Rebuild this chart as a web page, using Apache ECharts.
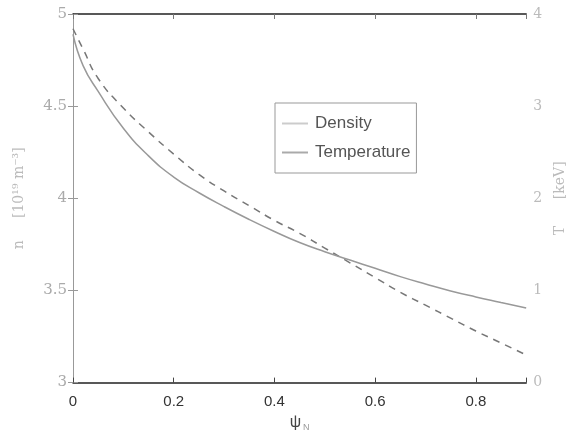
<!DOCTYPE html>
<html>
<head>
<meta charset="utf-8">
<script src="https://cdn.jsdelivr.net/npm/echarts@6/dist/echarts.min.js"></script>
<style>
  html, body { margin: 0; padding: 0; background: #fff; }
  #main { width: 575px; height: 437px; }
</style>
</head>
<body>
<div id="main"></div>
<script>
// normalized flux coordinate
const psi = [0, 0.02, 0.05, 0.1, 0.15, 0.2, 0.25, 0.3, 0.35, 0.4, 0.45, 0.5, 0.55, 0.6, 0.65, 0.7, 0.75, 0.8, 0.85, 0.9];
// density, 10^19 m^-3 (left axis)
const density = [4.92, 4.81, 4.65, 4.49, 4.36, 4.24, 4.13, 4.04, 3.96, 3.88, 3.81, 3.73, 3.65, 3.57, 3.49, 3.42, 3.35, 3.28, 3.215, 3.15];
// electron temperature, keV (right axis)
const temperature = [3.78, 3.44, 3.16, 2.76, 2.46, 2.23, 2.06, 1.91, 1.77, 1.64, 1.52, 1.42, 1.33, 1.24, 1.15, 1.07, 0.995, 0.93, 0.87, 0.81];
const xTicks = [0, 0.2, 0.4, 0.6, 0.8];

const chart = echarts.init(document.getElementById('main'));
const font = 'Liberation Sans, Arial, sans-serif';
const serif = 'DejaVu Serif, serif';

const option = {
    animation: false,
    backgroundColor: '#fff',
    grid: { left: 73, right: 46, top: 14, bottom: 49 },
    legend: {
        orient: 'vertical',
        left: 275,
        top: 103,
        padding: [12, 6, 12, 7],
        itemGap: 12,
        itemWidth: 26,
        itemHeight: 2,
        icon: 'rect',
        borderColor: '#999',
        borderWidth: 1,
        textStyle: { color: '#555', fontSize: 17, fontFamily: font, padding: [0, 0, 0, 2] },
        data: ['Density', 'Temperature']
    },
    xAxis: [
        {
            type: 'value',
            min: 0,
            max: 0.9,
            interval: 0.2,
            name: '{a|ψ}{s|N}',
            nameLocation: 'middle',
            nameGap: 30,
            nameTextStyle: {
                rich: {
                    a: { fontSize: 16, color: '#444', fontFamily: font },
                    s: { fontSize: 9, color: '#999', fontFamily: font, padding: [10, 0, 0, 2] }
                }
            },
            axisLine: { lineStyle: { color: '#222', width: 1.5 } },
            axisTick: { inside: true, length: 5, lineStyle: { color: '#444' } },
            axisLabel: {
                color: '#333', fontSize: 15, fontFamily: font, margin: 12,
                formatter: v => xTicks.some(t => Math.abs(t - v) < 1e-6) ? String(v) : ''
            },
            splitLine: { show: false }
        },
        {
            type: 'value',
            position: 'top',
            min: 0,
            max: 0.9,
            interval: 0.2,
            axisLine: { lineStyle: { color: '#222', width: 1.5 } },
            axisTick: { inside: true, length: 5, lineStyle: { color: '#777' } },
            axisLabel: { show: false },
            splitLine: { show: false }
        }
    ],
    yAxis: [
        {
            type: 'value',
            min: 3,
            max: 5,
            interval: 0.5,
            name: 'n     [10¹⁹ m⁻³]',
            nameLocation: 'middle',
            nameGap: 47,
            nameTextStyle: { color: '#bbb', fontSize: 14, fontFamily: serif },
            axisLine: { show: true, lineStyle: { color: '#999' } },
            axisTick: { inside: true, length: 5, lineStyle: { color: '#999' } },
            axisLabel: { color: '#aaa', fontSize: 15, fontFamily: serif, margin: 6 },
            splitLine: { show: false }
        },
        {
            type: 'value',
            min: 0,
            max: 4,
            interval: 1,
            position: 'right',
            name: 'T      [keV]',
            nameLocation: 'middle',
            nameGap: 16,
            nameTextStyle: { color: '#bbb', fontSize: 14, fontFamily: serif },
            axisLine: { show: true, lineStyle: { color: '#999' } },
            axisTick: { inside: true, length: 5, lineStyle: { color: '#999' } },
            axisLabel: { color: '#bbb', fontSize: 14, fontFamily: serif, margin: 7 },
            splitLine: { show: false }
        }
    ],
    series: [
        {
            name: 'Density',
            type: 'line',
            xAxisIndex: 0,
            yAxisIndex: 0,
            smooth: true,
            symbol: 'none',
            data: psi.map((p, i) => [p, density[i]]),
            lineStyle: { color: '#777', width: 1.5, type: [7, 6] },
            itemStyle: { color: '#ccc' }
        },
        {
            name: 'Temperature',
            type: 'line',
            xAxisIndex: 0,
            yAxisIndex: 1,
            smooth: true,
            symbol: 'none',
            data: psi.map((p, i) => [p, temperature[i]]),
            lineStyle: { color: '#999', width: 1.5 },
            itemStyle: { color: '#aaa' }
        }
    ]
};

chart.setOption(option);
</script>
</body>
</html>
